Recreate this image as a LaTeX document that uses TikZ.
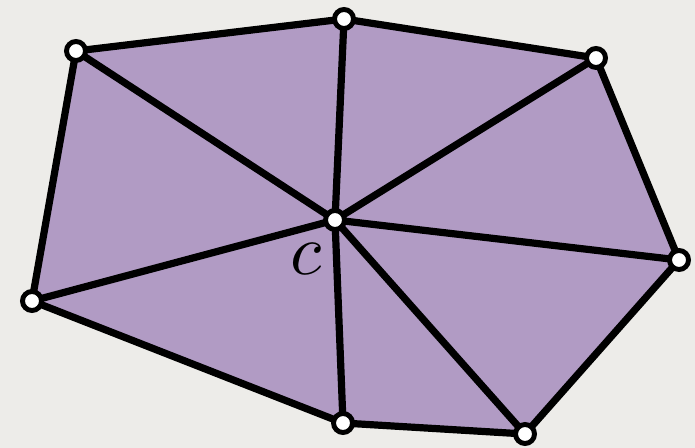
\documentclass[tikz,border=0pt]{standalone}
\usepackage{xcolor}
\usepackage{tikz}
\usetikzlibrary{positioning, backgrounds}
\definecolor{fanbg}{HTML}{EDECE9}
\definecolor{fanpurple}{HTML}{B19BC4}

\begin{document}
\begin{tikzpicture}[
    x=0.02cm, y=-0.02cm,
    vert/.style={circle,draw=black,fill=white,line width=2.8pt,inner sep=0pt,minimum size=0.38cm},
    edge/.style={line width=4.1pt,black,line join=round},
  ]
    \fill[fanbg] (0,0) rectangle (695,448);
    \useasboundingbox (0,0) rectangle (695,448);

    \coordinate (a) at (76,51);
    \coordinate (b) at (344,19);
    \coordinate (d) at (596,58);
    \coordinate (e) at (679,260);
    \coordinate (f) at (525,434);
    \coordinate (g) at (343,423);
    \coordinate (h) at (32,301);
    \coordinate (c) at (335,220);

    \fill[fanpurple] (a) -- (b) -- (d) -- (e) -- (f) -- (g) -- (h) -- cycle;
    \draw[edge] (a) -- (b) -- (d) -- (e) -- (f) -- (g) -- (h) -- cycle;
    \foreach \v in {a,b,d,e,f,g,h}
      \draw[edge] (c) -- (\v);

    \node[inner sep=0pt] (clabel) at (306,259) {\scalebox{4.1}{$c$}};

    \foreach \v in {a,b,d,e,f,g,h,c}
      \node[vert] (n\v) at (\v) {};
  \end{tikzpicture}
\end{document}
